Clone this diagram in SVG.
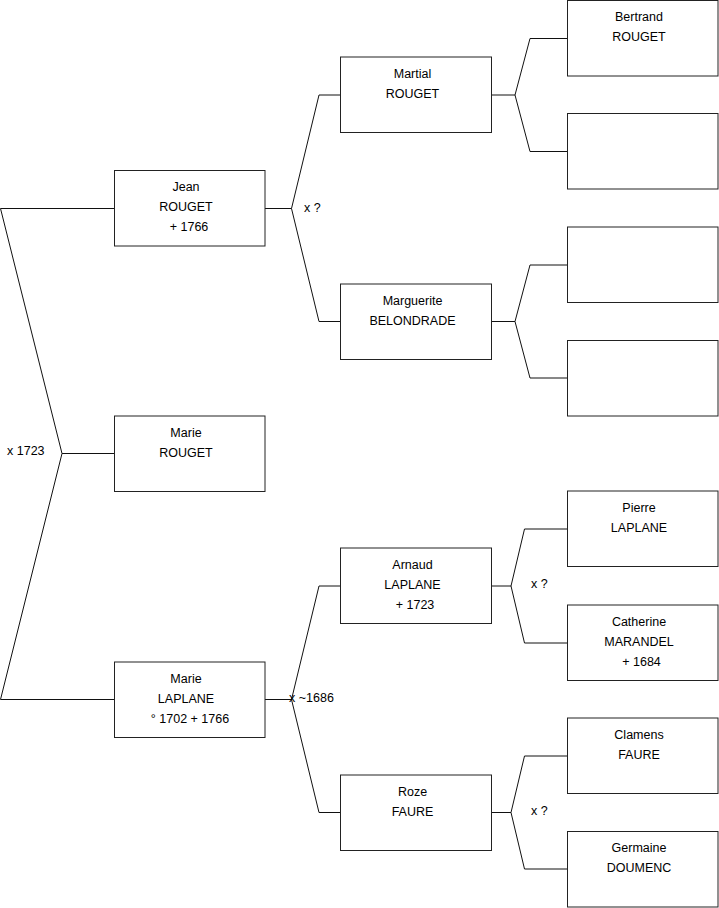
<svg xmlns="http://www.w3.org/2000/svg" width="719" height="908" viewBox="0 0 719 908">
<style>
.box{fill:#fff;stroke:#222;stroke-width:1}
.ln{fill:none;stroke:#111;stroke-width:1}
text{font-family:"Liberation Sans",Arial,sans-serif;font-size:12.5px;fill:#000}
.c{text-anchor:middle}
</style>
<rect width="719" height="908" fill="#fff"/>
<g id="connectors">
<path class="ln" d="M114,208.5 H0.5 L62,453.5 L0.5,699.5 H114 M62,453.5 H114"/>
<path class="ln" d="M340.5,95 H319 L291.5,208.5 L319,321.5 H340.5 M265,208.5 H291.5"/>
<path class="ln" d="M567.5,38.5 H530 L515,95 L530,151.5 H567.5 M491.5,95 H515"/>
<path class="ln" d="M567.5,265 H530 L515,321.5 L530,378 H567.5 M491.5,321.5 H515"/>
<path class="ln" d="M567.5,529 H524.5 L511,586 L524.5,643 H567.5 M491.5,586 H511"/>
<path class="ln" d="M340.5,586 H319 L291.5,699.5 L319,812.5 H340.5 M265,699.5 H291.5"/>
<path class="ln" d="M567.5,756 H524.5 L511,812.5 L524.5,869 H567.5 M491.5,812.5 H511"/>
</g>
<g id="labels">
<text x="304" y="212">x ?</text>
<text x="7" y="455">x 1723</text>
<text x="289" y="702">x ~1686</text>
<text x="531" y="588">x ?</text>
<text x="531" y="815">x ?</text>
</g>
<g id="jean"><rect class="box" x="114.5" y="170.5" width="150.5" height="75.5"/><text class="c" x="186" y="191">Jean</text><text class="c" x="186" y="211">ROUGET</text><text class="c" x="189" y="231">+ 1766</text></g>
<g id="marie-rouget"><rect class="box" x="114.5" y="416" width="150.5" height="75.5"/><text class="c" x="186" y="437">Marie</text><text class="c" x="186" y="457">ROUGET</text></g>
<g id="marie-laplane"><rect class="box" x="114.5" y="662" width="150.5" height="75.5"/><text class="c" x="186" y="682.5">Marie</text><text class="c" x="186" y="702.5">LAPLANE</text><text class="c" x="190" y="722.5">° 1702 + 1766</text></g>
<g id="martial"><rect class="box" x="340.5" y="57" width="151" height="75.5"/><text class="c" x="412.5" y="78">Martial</text><text class="c" x="412.5" y="98">ROUGET</text></g>
<g id="marguerite"><rect class="box" x="340.5" y="284" width="151" height="75.5"/><text class="c" x="412.5" y="304.5">Marguerite</text><text class="c" x="412.5" y="324.5">BELONDRADE</text></g>
<g id="arnaud"><rect class="box" x="340.5" y="548" width="151" height="75.5"/><text class="c" x="412.5" y="568.5">Arnaud</text><text class="c" x="412.5" y="588.5">LAPLANE</text><text class="c" x="415" y="608.5">+ 1723</text></g>
<g id="roze"><rect class="box" x="340.5" y="775" width="151" height="75.5"/><text class="c" x="412.5" y="795.5">Roze</text><text class="c" x="412.5" y="815.5">FAURE</text></g>
<g id="bertrand"><rect class="box" x="567.5" y="0.5" width="150.5" height="75.5"/><text class="c" x="639" y="20.5">Bertrand</text><text class="c" x="639" y="40.5">ROUGET</text></g>
<g id="empty1"><rect class="box" x="567.5" y="113.5" width="150.5" height="75.5"/></g>
<g id="empty2"><rect class="box" x="567.5" y="227" width="150.5" height="75.5"/></g>
<g id="empty3"><rect class="box" x="567.5" y="340.5" width="150.5" height="75.5"/></g>
<g id="pierre"><rect class="box" x="567.5" y="491" width="150.5" height="75.5"/><text class="c" x="639" y="511.5">Pierre</text><text class="c" x="639" y="531.5">LAPLANE</text></g>
<g id="catherine"><rect class="box" x="567.5" y="605" width="150.5" height="75.5"/><text class="c" x="639" y="625.5">Catherine</text><text class="c" x="639" y="645.5">MARANDEL</text><text class="c" x="641.5" y="665.5">+ 1684</text></g>
<g id="clamens"><rect class="box" x="567.5" y="718" width="150.5" height="75.5"/><text class="c" x="639" y="738.5">Clamens</text><text class="c" x="639" y="758.5">FAURE</text></g>
<g id="germaine"><rect class="box" x="567.5" y="831.5" width="150.5" height="75.5"/><text class="c" x="639" y="852">Germaine</text><text class="c" x="639" y="872">DOUMENC</text></g>
</svg>
